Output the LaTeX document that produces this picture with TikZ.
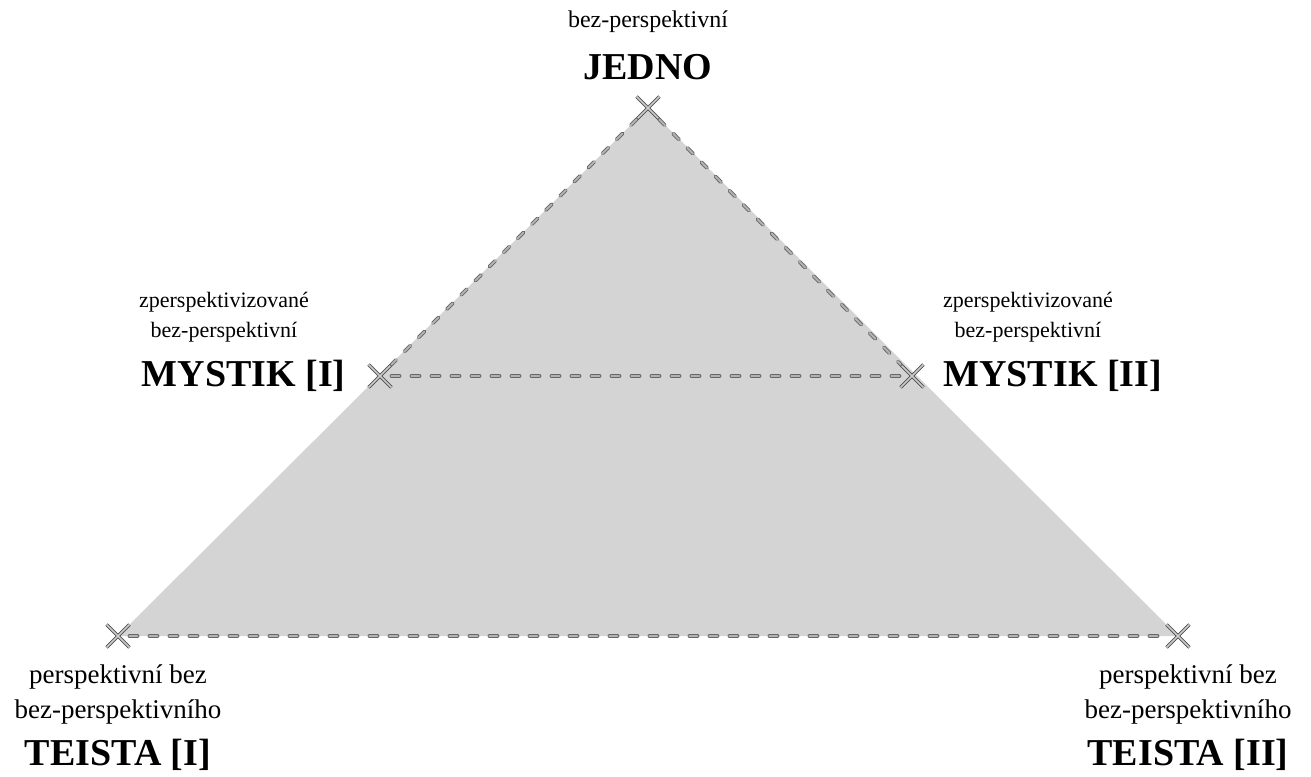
\documentclass[tikz,border=0pt]{standalone}
\usepackage{fontspec}
\setmainfont{Liberation Serif}
\usetikzlibrary{shapes.misc, positioning}
\tikzset{%
  every path/.style={line width=0.9pt},
    crossmark/.style={%
        cross out,
        draw=black!70,
        double=black!20,
        double distance=1.6pt,
        minimum size=22pt,
        inner sep=0pt,
    },
    dashedge/.style={%
        draw=black!60,
        double=black!30,
        double distance=2pt,
        dash pattern=on 8pt off 12pt,
        line cap=round,
    },
    note/.style={%
        font=\fontsize{22}{30}\selectfont,
        align=center,
        inner sep=0pt,
    },
    title/.style={%
        font=\fontsize{38}{46}\selectfont\bfseries,
        inner sep=0pt,
    },
}

\begin{document}
\begin{tikzpicture}[x=1pt, y=-1pt]
	\useasboundingbox (0,0) rectangle (1311,776);

	\coordinate (top) at (648,108);
	\coordinate (mid_l) at (380,376);
	\coordinate (mid_r) at (912,376);
	\coordinate (bot_l) at (118,636);
	\coordinate (bot_r) at (1178,636);

	\fill[black!17] (top) -- (bot_l) -- (bot_r) -- cycle;

	\node [crossmark] at (top) (jedno) {};
	\node [crossmark] at (mid_l) (mystik1) {};
	\node [crossmark] at (mid_r) (mystik2) {};
	\node [crossmark] at (bot_l) (teista1) {};
	\node [crossmark] at (bot_r) (teista2) {};

	\draw[dashedge] (jedno) -- (mystik1);
	\draw[dashedge] (jedno) -- (mystik2);
	\draw[dashedge] (mystik1) -- (mystik2);
	\draw[dashedge] (teista1) -- (teista2);

	\node [note, anchor=base, font=\fontsize{24}{30}\selectfont] at (648,28) (jedno_note) {bez-perspektivní};
	\node [title, anchor=base] at (648,79) (jedno_txt) {JEDNO};

	\node [note, anchor=center] at (224,317) (mystik1_note) {zperspektivizované\\bez-perspektivní};
	\node [title, anchor=base east] at (346,386) (mystik1_txt) {MYSTIK [I]};

	\node [note, anchor=center] at (1028,317) (mystik2_note) {zperspektivizované\\bez-perspektivní};
	\node [title, anchor=base west] at (943,386) (mystik2_txt) {MYSTIK [II]};

	\node [note, anchor=center, font=\fontsize{27}{35}\selectfont] at (118,694) (teista1_note) {perspektivní bez\\bez-perspektivního};
	\node [title, anchor=base] at (118,765) (teista1_txt) {TEISTA [I]};

	\node [note, anchor=center, font=\fontsize{27}{35}\selectfont] at (1188,694) (teista2_note) {perspektivní bez\\bez-perspektivního};
	\node [title, anchor=base] at (1188,765) (teista2_txt) {TEISTA [II]};
\end{tikzpicture}
\end{document}
